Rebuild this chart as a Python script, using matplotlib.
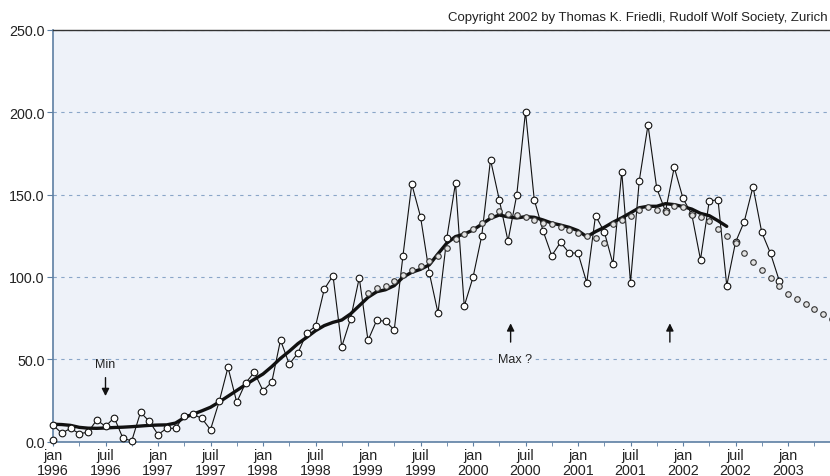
import numpy as np
import matplotlib
matplotlib.use("Agg")
import matplotlib.pyplot as plt

plt.rcParams['font.family'] = ['Liberation Sans', 'DejaVu Sans']

# monthly sunspot numbers, jan 1996 .. dec 2002
monthly = [10.0, 5.0, 8.0, 4.8, 5.6, 13.1, 9.2, 14.5, 1.9, 0.4, 17.7, 12.3,
           4.2, 8.0, 8.0, 15.7, 16.5, 14.1, 7.2, 24.4, 45.1, 23.8, 35.5, 42.0,
           30.9, 36.0, 61.6, 47.0, 53.8, 66.0, 70.0, 92.5, 100.8, 57.6, 74.3, 99.4,
           61.4, 73.7, 73.0, 67.8, 113.0, 156.4, 136.6, 102.6, 78.1, 123.4, 157.0, 82.3,
           99.7, 125.0, 171.2, 146.9, 121.8, 149.8, 200.4, 146.9, 128.1, 112.9, 121.0, 114.5,
           114.5, 96.5, 137.2, 127.5, 107.8, 163.9, 96.5, 158.4, 192.3, 153.8, 139.9, 166.6,
           147.7, 138.0, 110.5, 146.1, 146.9, 94.7, 121.0, 133.6, 154.8, 127.1, 114.3, 97.7]

# smoothed monthly numbers, jan 1996 .. jun 2002
smoothed = [10.5, 10.3, 9.8, 8.6, 8.1, 8.0, 8.2, 8.5, 8.7, 9.0, 9.4, 9.8,
            10.0, 10.1, 11.2, 14.5, 16.6, 18.6, 20.8, 24.0, 27.5, 31.0, 34.5, 37.8,
            41.0, 45.5, 50.5, 54.8, 59.5, 63.3, 67.3, 70.4, 72.4, 73.8, 77.5, 82.5,
            87.6, 91.0, 92.2, 94.7, 99.8, 102.8, 104.6, 107.3, 114.0, 120.5, 124.5, 126.0,
            128.5, 132.0, 135.6, 137.6, 136.5, 135.8, 136.6, 136.2, 134.6, 132.7, 131.5, 130.1,
            128.1, 124.4, 127.5, 130.1, 133.2, 135.9, 138.9, 142.0, 142.9, 142.9, 144.5, 143.9,
            142.7, 141.2, 138.6, 137.2, 134.1, 130.7]

# forecast values, jan 1999 .. jun 2003
forecast_start = 36
forecast = [90.2, 93.1, 94.7, 97.7, 101.2, 103.9, 106.8, 109.5, 112.5, 117.6, 123.0, 126.0,
            129.0, 132.7, 137.0, 139.8, 138.5, 137.9, 136.2, 134.5, 133.0, 132.2, 130.6, 128.6,
            126.5, 124.8, 123.4, 120.6, 132.4, 134.7, 136.7, 140.7, 142.3, 140.4, 139.5, 143.1,
            142.6, 137.9, 136.4, 134.1, 129.4, 124.7, 120.4, 114.6, 109.1, 104.4, 99.3, 94.4,
            89.5, 86.7, 83.4, 80.8, 77.6, 74.5]

month_names = ['jan', 'juil']
years = list(range(1996, 2004))

fig = plt.figure(figsize=(8.3, 4.77), dpi=100)
ax = fig.add_axes([53 / 830, 34.5 / 477, 777 / 830, 411.5 / 477])
ax.set_facecolor('#eef2f9')

xm = np.arange(len(monthly))
xs = np.arange(len(smoothed))
xf = np.arange(forecast_start, forecast_start + len(forecast))

ax.plot(xm, monthly, color='#111111', lw=0.8, marker='o', ms=4.8,
        mfc='white', mec='#111111', mew=0.8, zorder=4, clip_on=False)
ax.plot([0], [1.0], 'o', ms=4.8, mfc='white', mec='#111111', mew=0.8,
        zorder=4, clip_on=False)
ax.plot(xs, smoothed, color='#111111', lw=2.4, zorder=3, solid_capstyle='round')
ax.plot(xf, forecast, 'o', ms=4.0, mfc='#e2e2e2', mec='#333333', mew=0.8,
        zorder=5, clip_on=False)

# annotations
ax.annotate('', xy=(6, 27.6), xytext=(6, 38.8),
            arrowprops=dict(arrowstyle='-|>', color='#111111', lw=1,
                            mutation_scale=11, shrinkA=0, shrinkB=0))
ax.text(6, 47, 'Min', ha='center', va='center', fontsize=9, color='#222222')
for xa in (52.3, 70.5):
    ax.annotate('', xy=(xa, 71.8), xytext=(xa, 60.4),
                arrowprops=dict(arrowstyle='-|>', color='#111111', lw=1,
                                mutation_scale=11, shrinkA=0, shrinkB=0))
ax.text(52.8, 50, 'Max ?', ha='center', va='center', fontsize=9, color='#222222',
        bbox=dict(facecolor='#eef2f9', edgecolor='none', pad=1), zorder=3)

ax.set_xlim(0, 88.8)
ax.set_ylim(0, 250)

ax.set_yticks(np.arange(0, 251, 50))
ax.set_yticklabels(['%.1f' % v for v in np.arange(0, 251, 50)])
ax.set_xticks(np.arange(0, 88, 6))
ax.set_xticklabels(['%s\n%d' % (month_names[i % 2], years[i // 2])
                    for i in range(len(np.arange(0, 88, 6)))], linespacing=1.05)
ax.set_xticks(np.arange(0, 89, 3), minor=True)

axis_col = '#5d7fa3'
ax.tick_params(axis='both', which='both', direction='out', color=axis_col,
               labelsize=10.3, labelcolor='#222222')
ax.tick_params(axis='y', length=4, pad=2)
ax.tick_params(axis='x', which='both', length=3, pad=2)

ax.yaxis.grid(True, linestyle=(0, (3, 4)), color='#8aa6c8', lw=0.8)
ax.set_axisbelow(True)

for side in ('left', 'bottom'):
    ax.spines[side].set_color(axis_col)
    ax.spines[side].set_linewidth(1.2)
ax.spines['top'].set_color('#333333')
ax.spines['top'].set_linewidth(1.0)
ax.spines['right'].set_visible(False)

fig.text(828 / 830, 1 - 18 / 477,
         'Copyright 2002 by Thomas K. Friedli, Rudolf Wolf Society, Zurich',
         ha='right', va='center', fontsize=9.5, color='#222222')

fig.savefig('out.png', dpi=100)
